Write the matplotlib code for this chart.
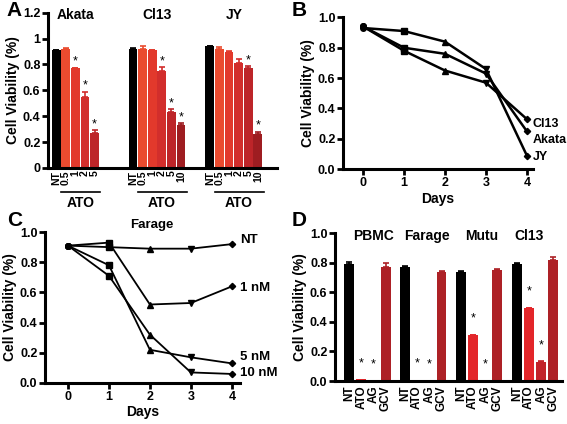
import matplotlib.pyplot as plt
import matplotlib.transforms as mtransforms
import numpy as np

plt.rcParams['font.family'] = 'Liberation Sans'
plt.rcParams['font.weight'] = 'bold'

# ---- panel A data ----
a_groups = ['Akata', 'Cl13', 'JY']
a_doses = [['NT', '0.5', '1', '2', '5'],
           ['NT', '0.5', '1', '2', '5', '10'],
           ['NT', '0.5', '1', '2', '5', '10']]
a_vals = [[0.91, 0.92, 0.77, 0.55, 0.27],
          [0.92, 0.92, 0.91, 0.75, 0.43, 0.33],
          [0.94, 0.92, 0.90, 0.81, 0.77, 0.26]]
a_err = [[0.005, 0.005, 0.005, 0.04, 0.02],
         [0.01, 0.02, 0.005, 0.03, 0.025, 0.015],
         [0.005, 0.015, 0.005, 0.03, 0.015, 0.02]]
a_star = [[0, 0, 1, 1, 1],
          [0, 0, 0, 1, 1, 1],
          [0, 0, 0, 0, 1, 1]]
a_colors = ['black', '#ea4b2f', '#e2392c', '#d22e2c', '#bd2529', '#9e1d21']

# ---- panel B data ----
days = [0, 1, 2, 3, 4]
b_names = ['Cl13', 'Akata', 'JY']
b_vals = [[0.94, 0.78, 0.65, 0.57, 0.33],
          [0.94, 0.80, 0.76, 0.63, 0.25],
          [0.93, 0.91, 0.84, 0.66, 0.09]]
b_label_y = [0.30, 0.19, 0.08]

# ---- panel C data ----
c_names = ['NT', '1 nM', '5 nM', '10 nM']
c_vals = [[0.91, 0.90, 0.89, 0.89, 0.92],
          [0.91, 0.93, 0.52, 0.53, 0.64],
          [0.91, 0.78, 0.22, 0.17, 0.13],
          [0.91, 0.71, 0.32, 0.07, 0.06]]
c_label_y = [0.95, 0.63, 0.17, 0.065]

# ---- panel D data ----
d_groups = ['PBMC', 'Farage', 'Mutu', 'Cl13']
d_treat = ['NT', 'ATO', 'AG', 'GCV']
d_vals = [[0.79, 0.012, 0.0, 0.77],
          [0.77, 0.008, 0.0, 0.74],
          [0.74, 0.31, 0.005, 0.75],
          [0.79, 0.49, 0.13, 0.82]]
d_err = [[0.015, 0.0, 0.0, 0.03],
         [0.01, 0.0, 0.0, 0.005],
         [0.005, 0.003, 0.0, 0.005],
         [0.005, 0.005, 0.003, 0.015]]
d_star = [[0, 1, 1, 0], [0, 1, 1, 0], [0, 1, 1, 0], [0, 1, 1, 0]]
d_colors = ['black', '#e3262a', '#c2232a', '#ad2126']

day_markers = ['o', 's', '^', 'v', 'D']

fig = plt.figure(figsize=(5.67, 4.24), dpi=100)


def style(ax):
    for s in ['top', 'right']:
        ax.spines[s].set_visible(False)
    for s in ['left', 'bottom']:
        ax.spines[s].set_linewidth(2.2)
    ax.tick_params(width=2, length=4, labelsize=9, pad=1.5)
    for lb in ax.get_yticklabels():
        lb.set_fontweight('bold')
    ax.set_ylabel('Cell Viability (%)', fontsize=10, fontweight='bold', labelpad=2)


def bars(ax, xs, vals, errs, colors, width):
    ax.bar(xs, vals, width=width, color=colors)
    for x, v, e, c in zip(xs, vals, errs, colors):
        if e > 0:
            ax.errorbar(x, v, yerr=[[0], [e]], color=c, capsize=2,
                        elinewidth=1.2, capthick=1.2, fmt='none')


# ---------- A ----------
axA = fig.add_axes([0.0847, 0.604, 0.404, 0.366])
starts = [0, 8, 16]
xt, xl = [], []
trA = mtransforms.blended_transform_factory(axA.transData, axA.transAxes)
for g in range(3):
    n = len(a_vals[g])
    xs = starts[g] + np.arange(n)
    bars(axA, xs, a_vals[g], a_err[g], a_colors[:n], 0.92)
    for i in range(n):
        if a_star[g][i]:
            axA.text(xs[i], a_vals[g][i] + a_err[g][i] + 0.045, '*',
                     ha='center', va='center', fontsize=9, fontweight='normal')
    xt += list(xs)
    xl += a_doses[g]
    axA.text(xs.mean(), 1.18, a_groups[g], ha='center', va='center', fontsize=10)
    axA.plot([xs[0] + 0.5, xs[-1] + 0.6], [-0.155, -0.155], color='black', lw=1.2,
             transform=trA, clip_on=False)
    axA.text((xs[0] + xs[-1]) / 2 + 0.5, -0.225, 'ATO', ha='center', va='center',
             fontsize=10, transform=trA)
axA.set_xlim(-0.85, 23)
axA.set_ylim(0, 1.2)
axA.set_yticks([0, 0.2, 0.4, 0.6, 0.8, 1.0, 1.2])
axA.set_yticklabels(['0', '0.2', '0.4', '0.6', '0.8', '1', '1.2'])
axA.set_xticks(xt)
axA.set_xticklabels(xl, rotation=90, fontweight='bold')
style(axA)
axA.tick_params(axis='x', length=0, pad=2, labelsize=7.5)

# ---------- B ----------
axB = fig.add_axes([0.605, 0.601, 0.335, 0.358])
for k in range(3):
    axB.plot(days, b_vals[k], color='black', lw=1.8)
    for d in range(5):
        axB.plot(days[d], b_vals[k][d], marker=day_markers[d], color='black',
                 ms=4 if d != 4 else 3.2)
    axB.text(4.15, b_label_y[k], b_names[k], ha='left', va='center', fontsize=9)
axB.set_xlim(-0.49, 4.15)
axB.set_ylim(0, 1.0)
axB.set_xticks(days)
axB.set_yticks([0, 0.2, 0.4, 0.6, 0.8, 1.0])
axB.set_yticklabels(['0.0', '0.2', '0.4', '0.6', '0.8', '1.0'])
axB.set_xlabel('Days', fontsize=10, fontweight='bold', labelpad=2)
style(axB)
for lb in axB.get_xticklabels():
    lb.set_fontweight('bold')

# ---------- C ----------
axC = fig.add_axes([0.0794, 0.0967, 0.344, 0.356])
for k in range(4):
    axC.plot(days, c_vals[k], color='black', lw=1.3)
    for d in range(5):
        axC.plot(days[d], c_vals[k][d], marker=day_markers[d], color='black',
                 ms=4 if d != 4 else 3.2)
    axC.text(4.2, c_label_y[k], c_names[k], ha='left', va='center', fontsize=9.5)
axC.text(2.05, 1.05, 'Farage', ha='center', va='center', fontsize=9.5)
axC.set_xlim(-0.56, 4.2)
axC.set_ylim(0, 1.0)
axC.set_xticks(days)
axC.set_yticks([0, 0.2, 0.4, 0.6, 0.8, 1.0])
axC.set_yticklabels(['0.0', '0.2', '0.4', '0.6', '0.8', '1.0'])
axC.set_xlabel('Days', fontsize=10, fontweight='bold', labelpad=2)
style(axC)
for lb in axC.get_xticklabels():
    lb.set_fontweight('bold')

# ---------- D ----------
axD = fig.add_axes([0.591, 0.1014, 0.400, 0.349])
xt, xl = [], []
title_x = [2.0, 6.4, 10.9, 14.8]
for g in range(4):
    xs = g * 4.6 + np.arange(4)
    bars(axD, xs, d_vals[g], d_err[g], d_colors, 0.82)
    for i in range(4):
        if d_star[g][i]:
            axD.text(xs[i], d_vals[g][i] + d_err[g][i] + 0.11, '*',
                     ha='center', va='center', fontsize=9, fontweight='normal')
    xt += list(xs)
    xl += d_treat
    axD.text(title_x[g], 0.98, d_groups[g], ha='center', va='center', fontsize=10)
axD.set_xlim(-1.15, 17.5)
axD.set_ylim(0, 1.0)
axD.set_yticks([0, 0.2, 0.4, 0.6, 0.8, 1.0])
axD.set_yticklabels(['0.0', '0.2', '0.4', '0.6', '0.8', '1.0'])
axD.set_xticks(xt)
axD.set_xticklabels(xl, rotation=90, fontweight='bold')
style(axD)
axD.tick_params(axis='x', length=0, pad=3, labelsize=8.5)

# panel letters
for lab, x, y in [('A', 0.012, 0.975), ('B', 0.515, 0.975),
                  ('C', 0.012, 0.48), ('D', 0.515, 0.48)]:
    fig.text(x, y, lab, fontsize=15, fontweight='bold', ha='left', va='center')

fig.savefig('out.png', dpi=100)
